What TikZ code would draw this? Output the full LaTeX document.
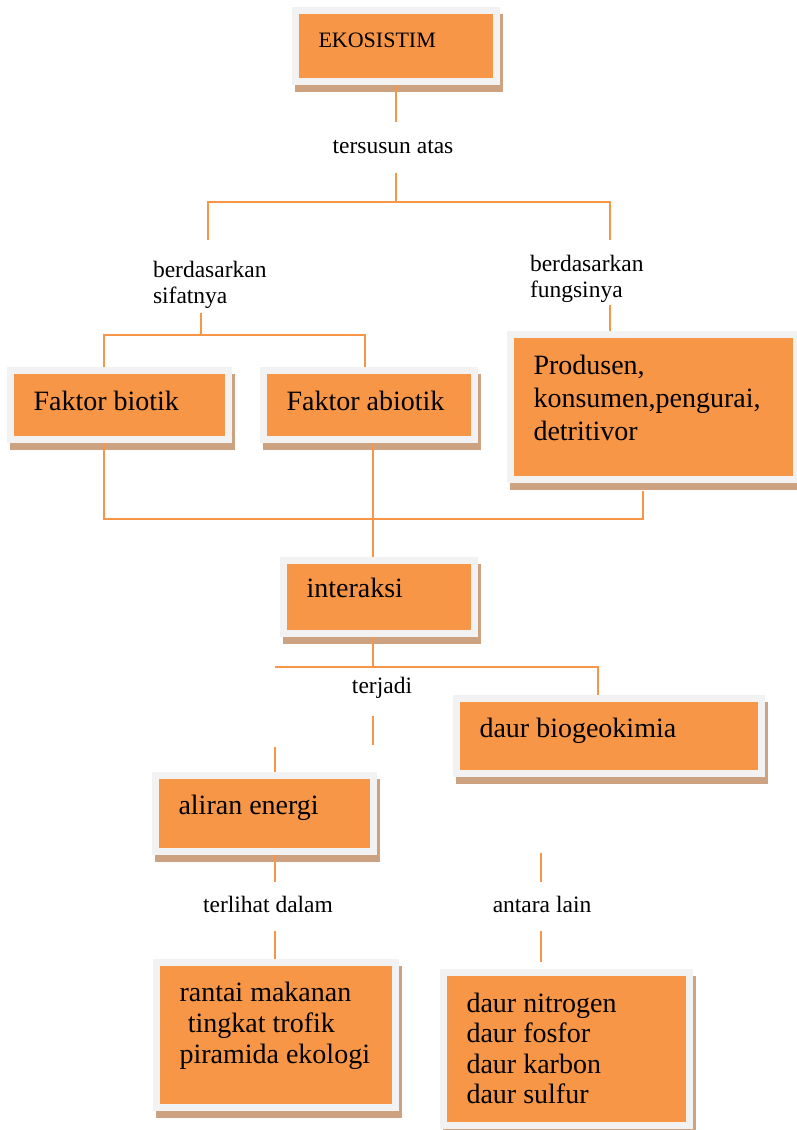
\documentclass[tikz,border=0pt]{standalone}
\usepackage{fontspec}
\setmainfont{Liberation Serif}
\usetikzlibrary{positioning,calc}
\definecolor{boxorange}{RGB}{247,150,70}
\definecolor{boxframe}{RGB}{242,242,242}
\definecolor{boxshadow}{RGB}{205,162,128}

\begin{document}
\begin{tikzpicture}[x=1pt,y=-1pt,
    box/.style={draw=boxframe,line width=7pt,fill=boxorange,anchor=north west,
      align=flush left,inner xsep=23pt,inner ysep=0pt,font=\fontsize{28}{33}\selectfont,
      preaction={draw=boxshadow,fill=boxshadow,line width=7pt,
        transform canvas={xshift=3pt,yshift=-7pt}}},
    lbl/.style={font=\fontsize{23.5}{26}\selectfont,inner sep=0pt,outer sep=0pt},
    onel/.style={lbl,text height=17pt,text depth=6pt},
    link/.style={draw=boxorange,line width=2.4pt}]

    \useasboundingbox (0,0) rectangle (796,1130);

    \node[box,text width=155pt,text height=36.5pt,text depth=34.5pt,
      font=\fontsize{22}{26}\selectfont]                      (eko)    at (292,7)   {EKOSISTIM};
    \node[box,text width=172pt,text height=39.5pt,text depth=29.5pt]  (bio)    at (7,367)   {Faktor biotik};
    \node[box,text width=165pt,text height=39.5pt,text depth=29.5pt]  (abio)   at (260,367) {Faktor abiotik};
    \node[box,text width=240pt,text height=39.5pt,text depth=105.5pt] (prod)   at (507,331) {Produsen,\\konsumen,pengurai,\\detritivor};
    \node[box,text width=145pt,text height=36.5pt,text depth=36.5pt]  (inter)  at (280,557) {interaksi};
    \node[box,text width=259pt,text height=38.5pt,text depth=36.5pt]  (biogeo) at (453,695) {daur biogeokimia};
    \node[box,text width=172pt,text height=38.5pt,text depth=37.5pt]  (aliran) at (152,772) {aliran energi};
    \node[box,text width=193pt,text height=38.5pt,text depth=106.5pt,
      font=\fontsize{28}{31}\selectfont]                      (rantai) at (153,959) {rantai makanan\\\hspace*{0.3em}tingkat trofik\\piramida ekologi};
    \node[box,text width=200pt,text height=39.5pt,text depth=113.5pt,
      font=\fontsize{28}{30.5}\selectfont]                    (nitro)  at (440,969) {daur nitrogen\\daur fosfor\\daur karbon\\daur sulfur};

    \node[onel,anchor=base] (tersusun) at (393,153) {tersusun atas};
    \node[lbl,align=left,anchor=west] (sifat) at (153,284.5) {berdasarkan\\sifatnya};
    \node[lbl,align=left,anchor=west] (fungsi) at (530,278.5) {berdasarkan\\fungsinya};
    \node[onel,anchor=base] (terjadi) at (382,693) {terjadi};
    \node[onel,anchor=base] (terlihat) at (268,912) {terlihat dalam};
    \node[onel,anchor=base] (antara) at (542,912) {antara lain};

    \coordinate (topsplit) at (396,202);
    \coordinate (splitL) at (208,202);
    \coordinate (splitR) at (610,202);
    \coordinate (sifatEnd) at (208,240);
    \coordinate (fungsiEnd) at (610,240);
    \coordinate (sifatStart) at (201,313);
    \coordinate (faktorsplit) at (201,335);
    \coordinate (faktorL) at (104,335);
    \coordinate (faktorR) at (365,335);
    \coordinate (fungsiStart) at (610,305);
    \coordinate (mergeL) at (104,519);
    \coordinate (mergeM) at (373,519);
    \coordinate (mergeR) at (643,519);
    \coordinate (intersplit) at (373,667);
    \coordinate (splitTL) at (275,667);
    \coordinate (splitTR) at (598,667);
    \coordinate (terjadiEnd) at (373,745);
    \coordinate (aliranStart) at (275,747);
    \coordinate (antaraTop) at (541,853);

    \draw[link,shorten >=14pt] (eko.south) -- (eko.south |- tersusun.north);
    \draw[link,shorten <=14pt] (tersusun.south -| topsplit) -- (topsplit);
    \draw[link] (sifatEnd) -- (splitL) -- (splitR) -- (fungsiEnd);
    \draw[link] (sifatStart) -- (faktorsplit);
    \draw[link] (bio.north -| faktorL) -- (faktorL) -- (faktorR) -- (abio.north -| faktorR);
    \draw[link] (fungsiStart) -- (prod.north -| fungsiStart);
    \draw[link,shorten >=8pt] (bio.south -| mergeL) -- (mergeL) -- (mergeR) -- (prod.south -| mergeR);
    \draw[link] (abio.south -| mergeM) -- (inter.north -| mergeM);
    \draw[link] (inter.south -| intersplit) -- (intersplit);
    \draw[link] (splitTL) -- (splitTR) -- (biogeo.north -| splitTR);
    \draw[link,shorten <=17pt] (terjadi.south -| intersplit) -- (terjadiEnd);
    \draw[link] (aliranStart) -- (aliran.north -| aliranStart);
    \draw[link,shorten >=13pt] (aliran.south -| splitTL) -- (splitTL |- terlihat.north);
    \draw[link,shorten <=13pt] (terlihat.south -| splitTL) -- (rantai.north -| splitTL);
    \draw[link,shorten >=13pt] (antaraTop) -- (antaraTop |- antara.north);
    \draw[link,shorten <=13pt,shorten >=7pt] (antara.south -| antaraTop) -- (nitro.north -| antaraTop);
\end{tikzpicture}
\end{document}
